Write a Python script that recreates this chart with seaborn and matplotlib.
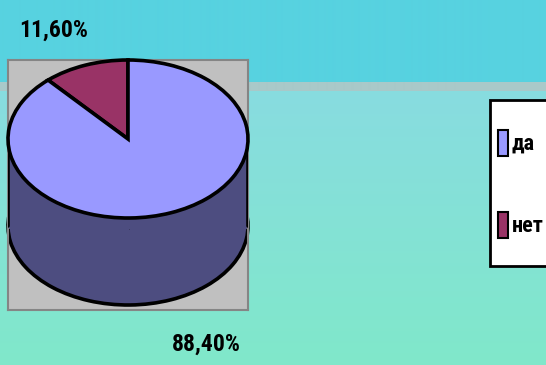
import numpy as np
import matplotlib
matplotlib.use("Agg")
import matplotlib.pyplot as plt
from matplotlib.patches import Rectangle
from matplotlib.colors import to_rgb
import seaborn as sns

# ---- data ----
categories = ["да", "нет"]
values = [88.4, 11.6]
colors = ["#9999ff", "#993366"]
side_color = "#4d4d80"

sns.set_style("white")
plt.rcParams["font.family"] = ["Roboto Condensed", "DejaVu Sans"]
plt.rcParams["text.color"] = "black"

W, H = 546, 365
fig = plt.figure(figsize=(W / 100, H / 100), dpi=100)

# ---- background ----
bg = fig.add_axes([0, 0, 1, 1])
bg.set_xlim(0, W)
bg.set_ylim(H, 0)
bg.axis("off")
rows = np.zeros((H, 1, 3))
top_c = np.array(to_rgb("#57d2e0"))
band_c = np.array(to_rgb("#a9c9c9"))
g0 = np.array(to_rgb("#88dce0"))
g1 = np.array(to_rgb("#80e8ca"))
for y in range(H):
    if y < 82:
        rows[y, 0] = top_c
    elif y < 91:
        rows[y, 0] = band_c
    else:
        t = (y - 91) / (H - 91)
        rows[y, 0] = g0 * (1 - t) + g1 * t
bg.imshow(rows, extent=(0, W, H, 0), aspect="auto", interpolation="bilinear", zorder=0)

# ---- 3D-looking pie ----
px_l, px_r, px_t, px_b = 8, 248, 60, 310
cx_px, cy_px, rx, ry = 128, 139, 120, 79
depth = 87 / ry
ax = fig.add_axes([px_l / W, (H - px_b) / H, (px_r - px_l) / W, (px_b - px_t) / H])
ax.set_facecolor("#c0c0c0")

order = [1, 0]  # нет first (counter-clockwise from 12 o'clock)
vals = [values[i] for i in order]
cols = [colors[i] for i in order]
lw = 2.6

# bottom (side) ellipse
ax.pie(vals, startangle=90, counterclock=True, center=(0, -depth), radius=1,
       colors=[side_color] * len(vals), frame=True,
       wedgeprops=dict(edgecolor="black", linewidth=lw, zorder=1))
ax.add_patch(Rectangle((-1, -depth - 0.04), 2, depth + 0.04, facecolor=side_color,
                       edgecolor="none", zorder=2))
ax.plot([-1, -1], [0, -depth], color="black", lw=lw, zorder=3)
ax.plot([1, 1], [0, -depth], color="black", lw=lw, zorder=3)
# top surface
ax.pie(vals, startangle=90, counterclock=True, center=(0, 0), radius=1,
       colors=cols, frame=True,
       wedgeprops=dict(edgecolor="black", linewidth=lw, zorder=4))

ax.set_aspect("auto")
ax.set_xlim(-(cx_px - px_l) / rx, (px_r - cx_px) / rx)
ax.set_ylim((cy_px - px_b) / ry, (cy_px - px_t) / ry)
ax.set_xticks([])
ax.set_yticks([])
for s in ax.spines.values():
    s.set_visible(True)
    s.set_color("#858585")
    s.set_linewidth(1.5)

# ---- percentage labels ----
def fmt(v):
    return f"{v:.2f}%".replace(".", ",")

bg.text(54, 30, fmt(values[1]), fontsize=17, fontweight="bold", ha="center", va="center", zorder=5)
bg.text(206, 344, fmt(values[0]), fontsize=17, fontweight="bold", ha="center", va="center", zorder=5)

# ---- legend ----
bg.add_patch(Rectangle((490, 100), 60, 166, facecolor="white", edgecolor="black", lw=2, zorder=5))
leg_y = [143, 225]
for lab, col, y in zip(categories, colors, leg_y):
    bg.add_patch(Rectangle((498, y - 13), 10, 26, facecolor=col, edgecolor="black", lw=1.5, zorder=6))
    bg.text(512, y + 1, lab, fontsize=16, fontweight="bold", ha="left", va="center", zorder=6)

fig.savefig("out.png", dpi=100)
